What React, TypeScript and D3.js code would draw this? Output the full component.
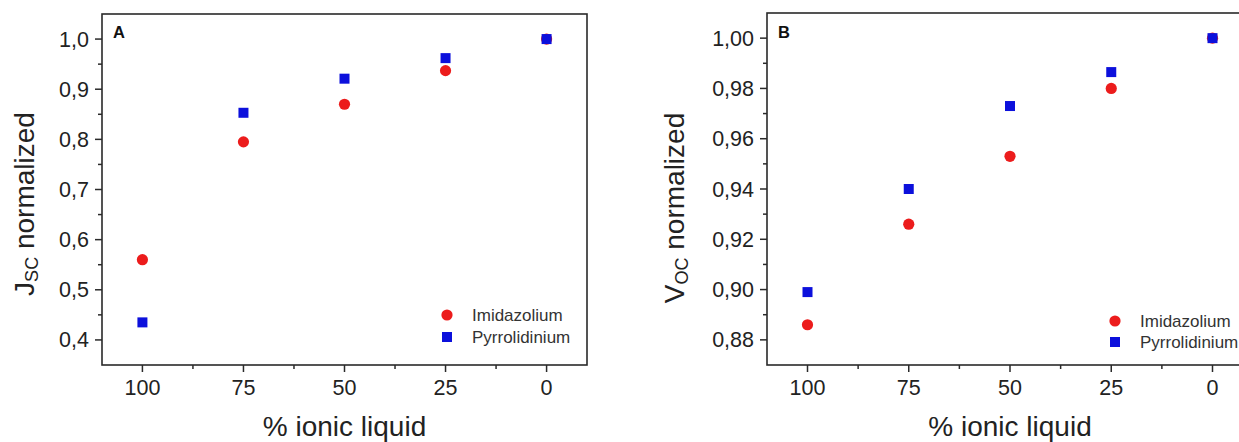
import React from "react";
import * as d3 from "d3";

const ionicLiquid = [100, 75, 50, 25, 0];
const jscImidazolium = [0.56, 0.795, 0.87, 0.937, 1.0];
const jscPyrrolidinium = [0.435, 0.853, 0.921, 0.962, 1.0];
const vocImidazolium = [0.886, 0.926, 0.953, 0.98, 1.0];
const vocPyrrolidinium = [0.899, 0.94, 0.973, 0.9865, 1.0];

const xTicks = [100, 75, 50, 25, 0];
const xMinorTicks = [87.5, 62.5, 37.5, 12.5];
const yTicksA = [0.4, 0.5, 0.6, 0.7, 0.8, 0.9, 1.0];
const yMinorA = [0.45, 0.55, 0.65, 0.75, 0.85, 0.95];
const yTicksB = [0.88, 0.9, 0.92, 0.94, 0.96, 0.98, 1.0];
const yMinorB = [0.89, 0.91, 0.93, 0.95, 0.97, 0.99];
const seriesNames = ["Imidazolium", "Pyrrolidinium"];

const FONT = "'Liberation Sans', Arial, Helvetica, sans-serif";
const RED = "#ec1c1c";
const BLUE = "#0c10dc";
const AXIS = "#2a2a2a";

type PanelProps = {
  x0: number; x1: number; y0: number; y1: number;
  yDomain: [number, number];
  yTicks: number[]; yMinor: number[]; yDigits: number;
  imid: number[]; pyrr: number[];
  letter: string;
  yMain: string; ySub: string; yLabelX: number; yLabelY: number;
  legendX: number; legendY1: number; legendY2: number;
};

function Panel(p: PanelProps) {
  const x = d3.scaleLinear().domain([110, -10]).range([p.x0, p.x1]);
  const y = d3.scaleLinear().domain(p.yDomain).range([p.y1, p.y0]);
  const fmt = (v: number) => v.toFixed(p.yDigits).replace(".", ",");
  const sq = 10;
  return (
    <g fontFamily={FONT}>
      <rect x={p.x0} y={p.y0} width={p.x1 - p.x0} height={p.y1 - p.y0} fill="none" stroke={AXIS} strokeWidth={1.6} />
      {xTicks.map((t) => (
        <g key={"xt" + t}>
          <line x1={x(t)} x2={x(t)} y1={p.y1} y2={p.y1 + 7} stroke={AXIS} strokeWidth={1.5} />
          <text x={x(t)} y={395} fontSize={21.5} textAnchor="middle" fill="#222">{t}</text>
        </g>
      ))}
      {xMinorTicks.map((t) => (
        <line key={"xm" + t} x1={x(t)} x2={x(t)} y1={p.y1} y2={p.y1 + 4} stroke={AXIS} strokeWidth={1.5} />
      ))}
      {p.yTicks.map((t) => (
        <g key={"yt" + t}>
          <line x1={p.x0 - 7} x2={p.x0} y1={y(t)} y2={y(t)} stroke={AXIS} strokeWidth={1.5} />
          <text x={p.x0 - 13} y={y(t) + 7.5} fontSize={21.5} textAnchor="end" fill="#222">{fmt(t)}</text>
        </g>
      ))}
      {p.yMinor.map((t) => (
        <line key={"ym" + t} x1={p.x0 - 4} x2={p.x0} y1={y(t)} y2={y(t)} stroke={AXIS} strokeWidth={1.5} />
      ))}
      <text x={p.x0 + 11} y={38} fontSize={16.5} fontWeight="bold" fill="#111">{p.letter}</text>
      {p.imid.map((v, i) => (
        <circle key={"c" + i} cx={x(ionicLiquid[i])} cy={y(v)} r={5.6} fill={RED} />
      ))}
      {p.pyrr.map((v, i) => (
        <rect key={"s" + i} x={x(ionicLiquid[i]) - sq / 2} y={y(v) - sq / 2} width={sq} height={sq} fill={BLUE} />
      ))}
      <circle cx={p.legendX} cy={p.legendY1} r={5.6} fill={RED} />
      <text x={p.legendX + 25} y={p.legendY1 + 6} fontSize={17} fill="#333">{seriesNames[0]}</text>
      <rect x={p.legendX - sq / 2} y={p.legendY2 - sq / 2} width={sq} height={sq} fill={BLUE} />
      <text x={p.legendX + 25} y={p.legendY2 + 6} fontSize={17} fill="#333">{seriesNames[1]}</text>
      <text x={(x(100) + x(0)) / 2} y={436} fontSize={28} textAnchor="middle" fill="#222">% ionic liquid</text>
      <text transform={`translate(${p.yLabelX},${p.yLabelY}) rotate(-90)`} fontSize={28} textAnchor="middle" fill="#222">
        {p.yMain}
        <tspan fontSize={18} dy={4}>{p.ySub}</tspan>
        <tspan dy={-4}> normalized</tspan>
      </text>
    </g>
  );
}

export default function App() {
  return (
    <div style={{ position: "absolute", left: 0, top: 0 }}>
      <svg width={1239} height={442} style={{ display: "block", background: "#fff" }}>
        <Panel
          x0={102} x1={587} y0={14} y1={365}
          yDomain={[0.35, 1.05]} yTicks={yTicksA} yMinor={yMinorA} yDigits={1}
          imid={jscImidazolium} pyrr={jscPyrrolidinium}
          letter="A" yMain="J" ySub="SC" yLabelX={34} yLabelY={204}
          legendX={447} legendY1={315} legendY2={337}
        />
        <Panel
          x0={767} x1={1253} y0={13} y1={365}
          yDomain={[0.87, 1.01]} yTicks={yTicksB} yMinor={yMinorB} yDigits={2}
          imid={vocImidazolium} pyrr={vocPyrrolidinium}
          letter="B" yMain="V" ySub="OC" yLabelX={684} yLabelY={208}
          legendX={1115} legendY1={321} legendY2={342}
        />
      </svg>
    </div>
  );
}
